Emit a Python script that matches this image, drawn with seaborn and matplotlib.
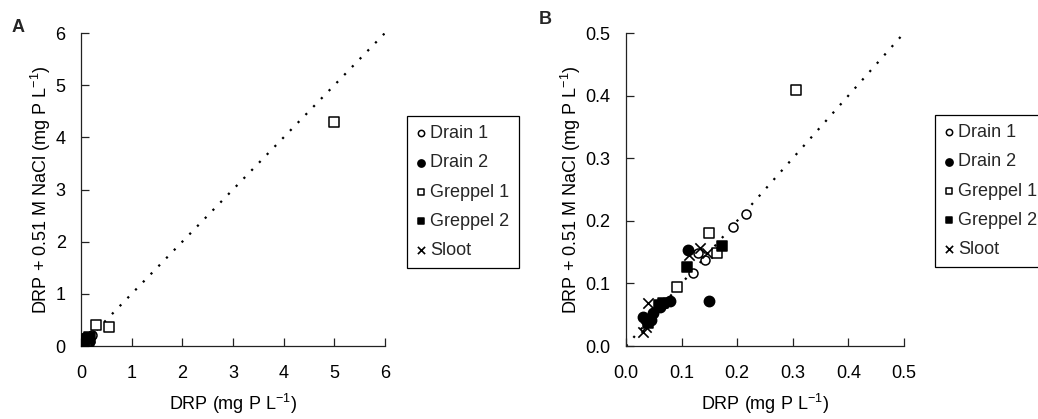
import matplotlib
matplotlib.use("Agg")
import matplotlib.pyplot as plt
import seaborn as sns
import pandas as pd
from matplotlib.ticker import FormatStrFormatter

# ---- data ----
sites = ["Drain 1", "Drain 2", "Greppel 1", "Greppel 2", "Sloot"]
drain1_x = [0.120, 0.130, 0.142, 0.192, 0.216]
drain1_y = [0.117, 0.148, 0.137, 0.190, 0.211]
drain2_x = [0.031, 0.045, 0.049, 0.061, 0.068, 0.079, 0.112, 0.150]
drain2_y = [0.047, 0.042, 0.052, 0.063, 0.068, 0.072, 0.154, 0.072]
greppel1_x = [0.092, 0.150, 0.163, 0.305, 0.56, 5.0]
greppel1_y = [0.094, 0.180, 0.148, 0.409, 0.36, 4.3]
greppel2_x = [0.040, 0.060, 0.066, 0.110, 0.172]
greppel2_y = [0.037, 0.066, 0.069, 0.126, 0.159]
sloot_x = [0.031, 0.036, 0.040, 0.113, 0.133, 0.145]
sloot_y = [0.023, 0.030, 0.068, 0.145, 0.156, 0.148]

ticks_a = [0, 1, 2, 3, 4, 5, 6]
ticks_b = [0.0, 0.1, 0.2, 0.3, 0.4, 0.5]
xlabel = "DRP (mg P L$^{-1}$)"
ylabel = "DRP + 0.51 M NaCl (mg P L$^{-1}$)"

frames = []
for name, xs, ys in zip(sites,
                        [drain1_x, drain2_x, greppel1_x, greppel2_x, sloot_x],
                        [drain1_y, drain2_y, greppel1_y, greppel2_y, sloot_y]):
    frames.append(pd.DataFrame({"x": xs, "y": ys, "site": name}))
df = pd.concat(frames, ignore_index=True)

styles = {
    "Drain 1": dict(marker="o", facecolor="white", s=42),
    "Drain 2": dict(marker="o", facecolor="black", s=55),
    "Greppel 1": dict(marker="s", facecolor="white", s=42),
    "Greppel 2": dict(marker="s", facecolor="black", s=50),
    "Sloot": dict(marker="x", facecolor="black", s=55),
}

sns.set_theme(style="ticks")
plt.rcParams["font.family"] = ["Liberation Sans", "DejaVu Sans"]
plt.rcParams["mathtext.fontset"] = "custom"
plt.rcParams["mathtext.rm"] = "Liberation Sans"
plt.rcParams["mathtext.it"] = "Liberation Sans"

FS = 13
fig = plt.figure(figsize=(10.38, 4.19), dpi=100)
axA = fig.add_axes([81 / 1038, 73 / 419, 304 / 1038, 313 / 419])
axB = fig.add_axes([626 / 1038, 73 / 419, 278 / 1038, 313 / 419])


def draw(ax, lim, ticks, legend_anchor):
    ax.plot([0, lim], [0, lim], linestyle=(0, (1, 4)), color="black", lw=1.6, zorder=1)
    for name in sites:
        sub = df[df["site"] == name]
        st = styles[name]
        if st["marker"] == "x":
            sns.scatterplot(data=sub, x="x", y="y", ax=ax, marker="x", color="black",
                            s=st["s"], linewidth=1.2, label=name, legend=False, zorder=3)
        else:
            sns.scatterplot(data=sub, x="x", y="y", ax=ax, marker=st["marker"],
                            facecolor=st["facecolor"], edgecolor="black", s=st["s"],
                            linewidth=1.1, label=name, legend=False, zorder=3)
    ax.set_xlim(0, lim)
    ax.set_ylim(0, lim)
    ax.set_xticks(ticks)
    ax.set_yticks(ticks)
    sns.despine(ax=ax)
    for sp in ["left", "bottom"]:
        ax.spines[sp].set_color("#222222")
        ax.spines[sp].set_linewidth(0.9)
    ax.tick_params(axis="both", direction="in", length=6, width=0.9, color="#222222",
                   labelsize=FS, labelcolor="black")
    ax.tick_params(axis="x", pad=14)
    ax.tick_params(axis="y", pad=11)
    ax.set_xlabel(xlabel, fontsize=FS, labelpad=7, color="black")
    ax.set_ylabel(ylabel, fontsize=FS, labelpad=2, color="black")
    leg = ax.legend(loc="upper left", bbox_to_anchor=legend_anchor,
                    bbox_transform=fig.transFigure, fontsize=FS, frameon=True,
                    fancybox=False, edgecolor="black", framealpha=1,
                    borderpad=0.5, labelspacing=0.68, handlelength=0.6,
                    handletextpad=0.2, borderaxespad=0, markerscale=0.7)
    leg.get_frame().set_linewidth(0.9)
    ax.set_facecolor("white")


draw(axA, 6, ticks_a, (407 / 1038, 1 - 116 / 419))
draw(axB, 0.5, ticks_b, (935 / 1038, 1 - 115 / 419))
axB.xaxis.set_major_formatter(FormatStrFormatter("%.1f"))
axB.yaxis.set_major_formatter(FormatStrFormatter("%.1f"))

fig.text(18 / 1038, 1 - 27 / 419, "A", fontsize=FS, fontweight="bold", ha="center", va="center")
fig.text(545 / 1038, 1 - 19 / 419, "B", fontsize=FS, fontweight="bold", ha="center", va="center")

fig.savefig("out.png", dpi=100, facecolor="white")
